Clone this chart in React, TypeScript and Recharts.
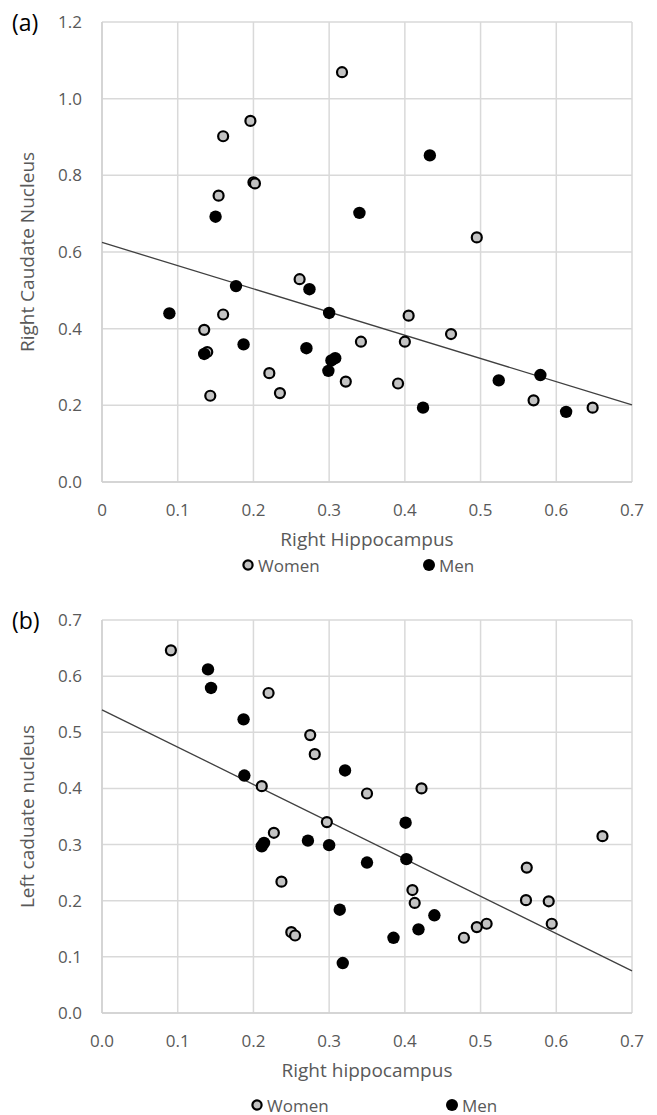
import React from 'react';
import { ScatterChart, Scatter, XAxis, YAxis, CartesianGrid } from 'recharts';

const xTicks = [0, 0.1, 0.2, 0.3, 0.4, 0.5, 0.6, 0.7];
const yTicksA = [0, 0.2, 0.4, 0.6, 0.8, 1.0, 1.2];
const yTicksB = [0, 0.1, 0.2, 0.3, 0.4, 0.5, 0.6, 0.7];

// (a) right hippocampus vs right caudate
const womenA = [
  { x: 0.160, y: 0.902 }, { x: 0.196, y: 0.942 }, { x: 0.200, y: 0.782 }, { x: 0.202, y: 0.779 },
  { x: 0.154, y: 0.747 }, { x: 0.317, y: 1.069 }, { x: 0.495, y: 0.638 }, { x: 0.261, y: 0.529 },
  { x: 0.160, y: 0.437 }, { x: 0.135, y: 0.397 }, { x: 0.139, y: 0.339 }, { x: 0.221, y: 0.284 },
  { x: 0.235, y: 0.232 }, { x: 0.143, y: 0.225 }, { x: 0.405, y: 0.434 }, { x: 0.461, y: 0.386 },
  { x: 0.342, y: 0.366 }, { x: 0.400, y: 0.366 }, { x: 0.322, y: 0.262 }, { x: 0.391, y: 0.257 },
  { x: 0.570, y: 0.213 }, { x: 0.648, y: 0.194 },
];
const menA = [
  { x: 0.150, y: 0.692 }, { x: 0.433, y: 0.852 }, { x: 0.340, y: 0.702 }, { x: 0.177, y: 0.511 },
  { x: 0.274, y: 0.503 }, { x: 0.300, y: 0.441 }, { x: 0.089, y: 0.440 }, { x: 0.187, y: 0.359 },
  { x: 0.135, y: 0.334 }, { x: 0.270, y: 0.349 }, { x: 0.308, y: 0.323 }, { x: 0.303, y: 0.317 },
  { x: 0.299, y: 0.290 }, { x: 0.424, y: 0.194 }, { x: 0.524, y: 0.265 }, { x: 0.579, y: 0.279 },
  { x: 0.613, y: 0.183 },
];
const fitA = [{ x: 0, y: 0.625 }, { x: 0.7, y: 0.201 }];

// (b) right hippocampus vs left caudate
const womenB = [
  { x: 0.091, y: 0.646 }, { x: 0.220, y: 0.570 }, { x: 0.275, y: 0.495 }, { x: 0.281, y: 0.461 },
  { x: 0.211, y: 0.404 }, { x: 0.350, y: 0.391 }, { x: 0.422, y: 0.400 }, { x: 0.297, y: 0.340 },
  { x: 0.227, y: 0.321 }, { x: 0.237, y: 0.234 }, { x: 0.250, y: 0.144 }, { x: 0.255, y: 0.138 },
  { x: 0.661, y: 0.315 }, { x: 0.561, y: 0.259 }, { x: 0.410, y: 0.219 }, { x: 0.413, y: 0.196 },
  { x: 0.560, y: 0.201 }, { x: 0.590, y: 0.199 }, { x: 0.594, y: 0.159 }, { x: 0.508, y: 0.159 },
  { x: 0.495, y: 0.153 }, { x: 0.478, y: 0.134 },
];
const menB = [
  { x: 0.140, y: 0.612 }, { x: 0.144, y: 0.579 }, { x: 0.187, y: 0.523 }, { x: 0.188, y: 0.423 },
  { x: 0.321, y: 0.432 }, { x: 0.211, y: 0.297 }, { x: 0.214, y: 0.303 }, { x: 0.272, y: 0.307 },
  { x: 0.300, y: 0.299 }, { x: 0.401, y: 0.339 }, { x: 0.402, y: 0.274 }, { x: 0.350, y: 0.268 },
  { x: 0.314, y: 0.184 }, { x: 0.439, y: 0.174 }, { x: 0.418, y: 0.149 }, { x: 0.385, y: 0.134 },
  { x: 0.318, y: 0.089 },
];
const fitB = [{ x: 0, y: 0.54 }, { x: 0.7, y: 0.075 }];

const FONT = '"Open Sans", sans-serif';
const GREY = '#595959';
const GRID = '#d9d9d9';

const WomanDot = (p: any) => (
  <circle cx={p.cx} cy={p.cy} r={5} fill="#c3c3c3" stroke="#000" strokeWidth={2.2} />
);
const ManDot = (p: any) => <circle cx={p.cx} cy={p.cy} r={6.2} fill="#000" />;
const NoDot = () => <g />;

type PanelProps = {
  top: number;
  height: number;
  marginTop: number;
  marginBottom: number;
  yMax: number;
  yTicks: number[];
  women: { x: number; y: number }[];
  men: { x: number; y: number }[];
  fit: { x: number; y: number }[];
  xFmt: (v: number) => string;
  xTitle: string;
  yTitle: string;
  tag: string;
  legendY: number;
  womenX: number;
  menX: number;
};

function Panel(p: PanelProps) {
  const plotTop = p.marginTop;
  return (
    <div style={{ position: 'absolute', left: 0, top: p.top, width: 657, height: p.height }}>
      <ScatterChart
        width={657}
        height={p.height}
        margin={{ top: p.marginTop, right: 25, bottom: p.marginBottom, left: 0 }}
      >
        <CartesianGrid stroke={GRID} strokeWidth={1.5} />
        <XAxis
          type="number"
          dataKey="x"
          domain={[0, 0.7]}
          ticks={xTicks}
          interval={0}
          tickFormatter={p.xFmt}
          height={30}
          axisLine={{ stroke: '#d0d0d0', strokeWidth: 1.5 }}
          tickLine={false}
          tickMargin={16}
          tick={{ fill: GREY, fontSize: 17, fontFamily: FONT }}
          label={{
            value: p.xTitle,
            position: 'bottom',
            offset: 21,
            fill: GREY,
            fontSize: 19,
            fontFamily: FONT,
          }}
        />
        <YAxis
          type="number"
          dataKey="y"
          domain={[0, p.yMax]}
          ticks={p.yTicks}
          interval={0}
          tickFormatter={(v: number) => v.toFixed(1)}
          width={102}
          axisLine={{ stroke: '#d0d0d0', strokeWidth: 1.5 }}
          tickLine={false}
          tickMargin={14}
          tick={{ fill: GREY, fontSize: 17, fontFamily: FONT }}
          label={{
            content: (lp: any) => {
              const vb = lp.viewBox || {};
              const cy = (vb.y ?? plotTop) + (vb.height ?? 0) / 2;
              return (
                <text
                  x={27}
                  y={cy}
                  transform={`rotate(-90 27 ${cy})`}
                  textAnchor="middle"
                  dominantBaseline="central"
                  fill={GREY}
                  fontSize={19}
                  fontFamily={FONT}
                >
                  {p.yTitle}
                </text>
              );
            },
          }}
        />
        <Scatter
          data={p.fit}
          line={{ stroke: '#404040', strokeWidth: 1.3 }}
          shape={NoDot}
          legendType="none"
          isAnimationActive={false}
        />
        <Scatter data={p.women} shape={WomanDot} isAnimationActive={false} />
        <Scatter data={p.men} shape={ManDot} isAnimationActive={false} />
      </ScatterChart>

      <div
        style={{
          position: 'absolute',
          left: 12,
          top: plotTop - 16,
          fontFamily: FONT,
          fontSize: 23,
          color: '#000',
          lineHeight: '32px',
        }}
      >
        {p.tag}
      </div>

      <div
        style={{
          position: 'absolute',
          left: p.womenX - 7,
          top: p.legendY - 12,
          height: 24,
          display: 'flex',
          alignItems: 'center',
          fontFamily: FONT,
          fontSize: 17,
          color: GREY,
        }}
      >
        <svg width={14} height={14} style={{ marginRight: 3 }}>
          <circle cx={7} cy={7} r={4.6} fill="#c3c3c3" stroke="#000" strokeWidth={2.2} />
        </svg>
        Women
      </div>
      <div
        style={{
          position: 'absolute',
          left: p.menX - 7,
          top: p.legendY - 12,
          height: 24,
          display: 'flex',
          alignItems: 'center',
          fontFamily: FONT,
          fontSize: 17,
          color: GREY,
        }}
      >
        <svg width={14} height={14} style={{ marginRight: 3 }}>
          <circle cx={7} cy={7} r={6} fill="#000" />
        </svg>
        Men
      </div>
    </div>
  );
}

export default function App() {
  return (
    <div style={{ position: 'absolute', left: 0, top: 0, width: 657, height: 1115, background: '#fff' }}>
      <Panel
        top={0}
        height={590}
        marginTop={22}
        marginBottom={78}
        yMax={1.2}
        yTicks={yTicksA}
        women={womenA}
        men={menA}
        fit={fitA}
        xFmt={(v) => (v === 0 ? '0' : v.toFixed(1))}
        xTitle="Right Hippocampus"
        yTitle="Right Caudate Nucleus"
        tag="(a)"
        legendY={565}
        womenX={248}
        menX={429}
      />
      <Panel
        top={590}
        height={525}
        marginTop={30}
        marginBottom={72}
        yMax={0.7}
        yTicks={yTicksB}
        women={womenB}
        men={menB}
        fit={fitB}
        xFmt={(v) => v.toFixed(1)}
        xTitle="Right hippocampus"
        yTitle="Left caduate nucleus"
        tag="(b)"
        legendY={515}
        womenX={257}
        menX={452}
      />
    </div>
  );
}
